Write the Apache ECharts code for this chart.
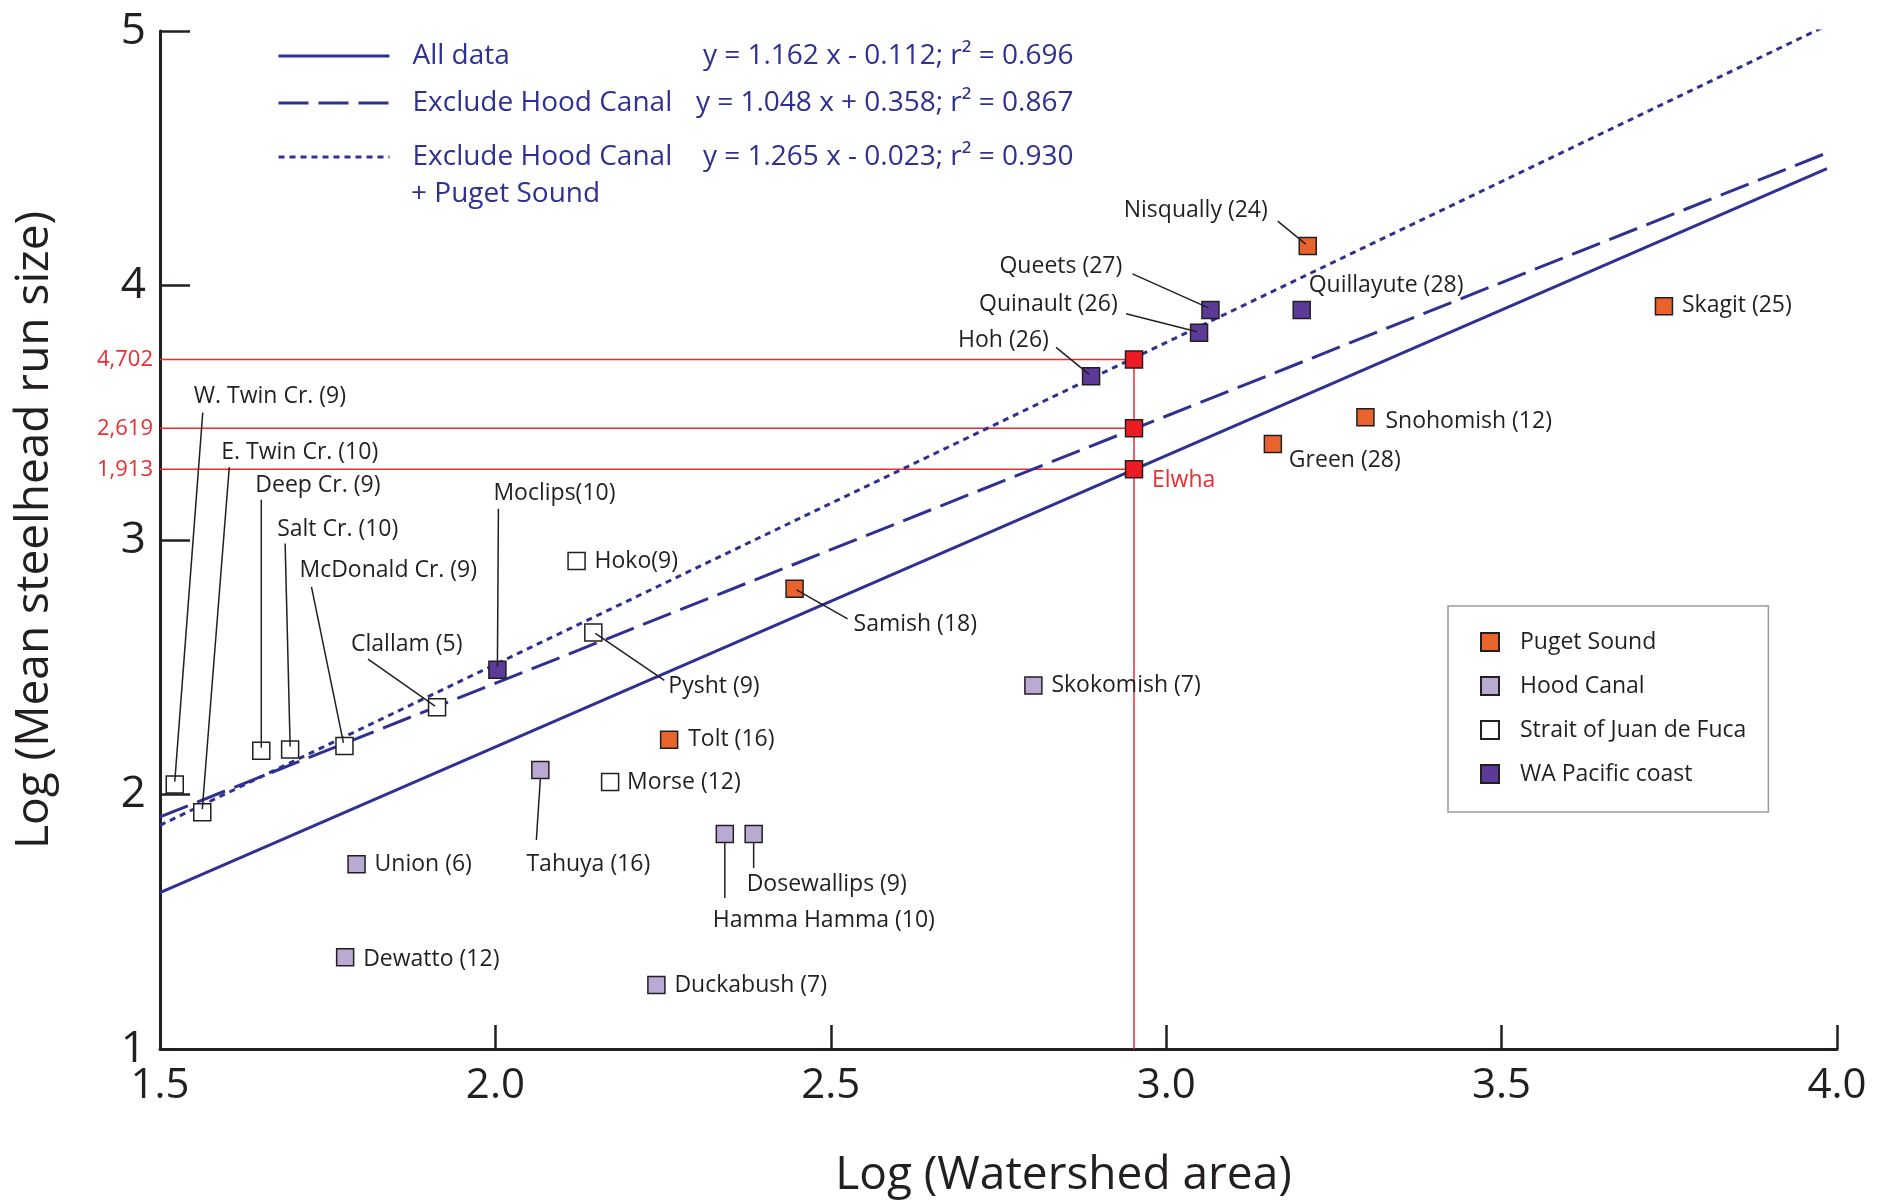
<!DOCTYPE html>
<html><head><meta charset="utf-8">
<script src="https://cdn.jsdelivr.net/npm/echarts@6/dist/echarts.min.js"></script>
<style>html,body{margin:0;padding:0;background:#fff}#c{width:1889px;height:1204px}</style>
</head><body><div id="c"></div>
<script>
// ---- data (log10 values) ----
const pugetNames = ['Nisqually (24)','Skagit (25)','Snohomish (12)','Green (28)','Samish (18)','Tolt (16)'];
const pugetX = [3.211, 3.742, 3.297, 3.159, 2.446, 2.259];
const pugetY = [4.155, 3.918, 3.482, 3.377, 2.808, 2.215];

const hoodNames = ['Skokomish (7)','Tahuya (16)','Union (6)','Dewatto (12)','Duckabush (7)','Hamma Hamma (10)','Dosewallips (9)'];
const hoodX = [2.802, 2.067, 1.793, 1.776, 2.240, 2.342, 2.385];
const hoodY = [2.428, 2.096, 1.726, 1.361, 1.251, 1.845, 1.845];

const straitNames = ['W. Twin Cr. (9)','E. Twin Cr. (10)','Deep Cr. (9)','Salt Cr. (10)','McDonald Cr. (9)','Clallam (5)','Hoko(9)','Pysht (9)','Morse (12)'];
const straitX = [1.522, 1.563, 1.651, 1.694, 1.775, 1.913, 2.121, 2.146, 2.171];
const straitY = [2.039, 1.930, 2.172, 2.177, 2.191, 2.343, 2.917, 2.637, 2.049];

const pacificNames = ['Moclips(10)','Hoh (26)','Quinault (26)','Queets (27)','Quillayute (28)'];
const pacificX = [2.003, 2.888, 3.049, 3.066, 3.202];
const pacificY = [2.490, 3.643, 3.814, 3.904, 3.904];

const elwhaX = 2.952;
const elwhaY = [3.709, 3.439, 3.278];
const elwhaLabels = ['4,702', '2,619', '1,913'];

// regression lines as drawn (start / end)
const lineX = [1.5, 3.985];
const allDataY = [1.614, 4.459];
const exclHoodY = [1.912, 4.521];
const exclHoodPugetY = [1.879, 5.022];
const lineNames = ['All data', 'Exclude Hood Canal', 'Exclude Hood Canal + Puget Sound'];
const lineLegendText = ['All data', 'Exclude Hood Canal', 'Exclude Hood Canal'];
const lineEquations = ['y = 1.162 x - 0.112; r² = 0.696', 'y = 1.048 x + 0.358; r² = 0.867', 'y = 1.265 x - 0.023; r² = 0.930'];

const regionNames = ['Puget Sound', 'Hood Canal', 'Strait of Juan de Fuca', 'WA Pacific coast'];
const xTicks = {min: 1.5, max: 4.0, interval: 0.5};
const yTicks = {min: 1, max: 5, interval: 1};

const FONT = '"Open Sans", "Noto Sans", sans-serif';
const INK = '#231F20';
const BLUE = '#2E3192';
const RED = '#ED2B30';
const colors = ['#E8642C', '#BAA9D3', '#FFFFFF', '#5C3A97'];

// ---- label layout (pixel offsets from the point) ----
const layout = {
  'W. Twin Cr. (9)': {t:[19,-388], l:[28,-372,0,-3]},
  'E. Twin Cr. (10)': {t:[19,-360], l:[27,-345,0,-3]},
  'Deep Cr. (9)': {t:[-6,-265], l:[0,-251,0,-3]},
  'Salt Cr. (10)': {t:[-13,-220], l:[-5,-206,0,-3]},
  'McDonald Cr. (9)': {t:[-45,-175], l:[-33,-159,-1,-3]},
  'Clallam (5)': {t:[-86,-63], l:[-69,-48,-2,-1]},
  'Moclips(10)': {t:[-4,-176], l:[1,-161,0,-3]},
  'Hoko(9)': {t:[18,0]},
  'Pysht (9)': {t:[75,54], l:[2,1,71,48]},
  'Samish (18)': {t:[59,36], l:[2,1,53,30]},
  'Skokomish (7)': {t:[18,0]},
  'Tolt (16)': {t:[19,0]},
  'Morse (12)': {t:[17,0]},
  'Union (6)': {t:[18,0]},
  'Dewatto (12)': {t:[18,2]},
  'Duckabush (7)': {t:[18,0]},
  'Tahuya (16)': {t:[48,94], a:'center', l:[0,9,-4,70]},
  'Dosewallips (9)': {t:[-7,51], l:[0,9,0,34]},
  'Hamma Hamma (10)': {t:[-12,87], l:[0,9,0,64]},
  'Skagit (25)': {t:[18,-1]},
  'Snohomish (12)': {t:[20,4]},
  'Green (28)': {t:[16,16]},
  'Nisqually (24)': {t:[-184,-36], l:[-30,-25,-2,-2]},
  'Quillayute (28)': {t:[7,-24]},
  'Queets (27)': {t:[-211,-43], l:[-78,-36,-2,-2]},
  'Quinault (26)': {t:[-220,-28], l:[-73,-19,-2,-1]},
  'Hoh (26)': {t:[-133,-36], l:[-35,-29,-2,-2]},
  'Elwha': {t:[18,11], c:RED},
  '4,702': {t:[-7,0], a:'right', c:RED, f:22},
  '2,619': {t:[-7,0], a:'right', c:RED, f:22},
  '1,913': {t:[-7,0], a:'right', c:RED, f:22}
};

function pts(xs, ys) { return xs.map((x, i) => [x, ys[i]]); }

const groups = [
  [pugetNames, pugetX, pugetY],
  [hoodNames, hoodX, hoodY],
  [straitNames, straitX, straitY],
  [pacificNames, pacificX, pacificY]
];

const annot = [];
groups.forEach(g => g[0].forEach((n, i) => annot.push({name: n, value: [g[1][i], g[2][i]]})));
annot.push({name: 'Elwha', value: [elwhaX, elwhaY[2]]});
elwhaY.forEach((y, i) => annot.push({name: elwhaLabels[i], value: [xTicks.min, y]}));

const series = [];
// regression lines
[[allDataY, 'solid'], [exclHoodY, [30, 10]], [exclHoodPugetY, [6, 5]]].forEach((d, i) => {
  series.push({
    name: lineNames[i], type: 'line', symbol: 'none', z: 2, silent: true,
    data: pts(lineX, d[0]),
    itemStyle: {color: BLUE},
    lineStyle: {color: BLUE, width: 3, type: d[1]}
  });
});
// red reference lines
elwhaY.forEach((y) => {
  series.push({
    type: 'line', symbol: 'none', z: 1, silent: true,
    data: [[xTicks.min, y], [elwhaX, y]],
    lineStyle: {color: RED, width: 1.5}
  });
});
series.push({
  type: 'line', symbol: 'none', z: 1, silent: true,
  data: [[elwhaX, yTicks.min], [elwhaX, elwhaY[0]]],
  lineStyle: {color: RED, width: 1.5}
});
// scatter groups
groups.forEach((g, gi) => {
  series.push({
    name: regionNames[gi], type: 'scatter', symbol: 'rect', symbolSize: 17, z: 5,
    data: g[0].map((n, i) => ({name: n, value: [g[1][i], g[2][i]]})),
    itemStyle: {color: colors[gi], borderColor: INK, borderWidth: 1.5, opacity: 1}
  });
});
series.push({
  name: 'Elwha', type: 'scatter', symbol: 'rect', symbolSize: 17, z: 5,
  data: elwhaY.map(y => [elwhaX, y]),
  itemStyle: {color: '#ED1C24', borderColor: INK, borderWidth: 1.5, opacity: 1}
});
// labels + leader lines
series.push({
  type: 'custom', z: 10, silent: true, clip: false,
  data: annot,
  renderItem: function (params, api) {
    const item = annot[params.dataIndex];
    const p = api.coord([api.value(0), api.value(1)]);
    const lay = layout[item.name] || {t: [18, 0]};
    const children = [];
    if (lay.l) {
      children.push({type: 'line', shape: {x1: p[0] + lay.l[0], y1: p[1] + lay.l[1], x2: p[0] + lay.l[2], y2: p[1] + lay.l[3]},
        style: {stroke: INK, lineWidth: 1.5}});
    }
    children.push({type: 'text', x: p[0] + lay.t[0], y: p[1] + lay.t[1],
      style: {text: item.name, fill: lay.c || INK, font: (lay.f || 23) + 'px ' + FONT,
        textAlign: lay.a || 'left', textVerticalAlign: 'middle', align: lay.a || 'left', verticalAlign: 'middle'}});
    return {type: 'group', children: children};
  }
});

function lineLegend(i, top) {
  return {
    data: [lineNames[i]], left: 277, top: top, padding: 0, itemWidth: 111, itemHeight: 14,
    selectedMode: false,
    itemStyle: {opacity: 0},
    lineStyle: {type: 'inherit', width: 3, color: BLUE, opacity: 1},
    formatter: () => '{n|' + lineLegendText[i] + '}{e|' + lineEquations[i] + '}',
    textStyle: {padding: [0, 0, 0, 18], rich: {
      n: {width: 236, fontSize: 28, fontFamily: FONT, color: BLUE, lineHeight: 30},
      e: {width: 425, align: 'right', fontSize: 28, fontFamily: FONT, color: BLUE, lineHeight: 30}
    }}
  };
}

const option = {
  backgroundColor: '#fff',
  animation: false,
  grid: {left: 160, right: 52, top: 31, bottom: 155},
  xAxis: {
    type: 'value', min: xTicks.min, max: xTicks.max, interval: xTicks.interval,
    name: 'Log (Watershed area)', nameLocation: 'middle', nameGap: 104,
    nameTextStyle: {fontSize: 46, color: INK, fontFamily: FONT, padding: [0, 0, 0, 130]},
    axisLine: {onZero: false, lineStyle: {color: INK, width: 3}},
    axisTick: {inside: true, length: 24, lineStyle: {color: INK, width: 2.5}},
    axisLabel: {fontSize: 42, color: INK, fontFamily: FONT, margin: 16, formatter: v => v.toFixed(1)},
    splitLine: {show: false}
  },
  yAxis: {
    type: 'value', min: yTicks.min, max: yTicks.max, interval: yTicks.interval,
    name: 'Log (Mean steelhead run size)', nameLocation: 'middle', nameGap: 102,
    nameTextStyle: {fontSize: 46, color: INK, fontFamily: FONT, padding: [0, 0, 0, 20]},
    axisLine: {onZero: false, lineStyle: {color: INK, width: 3}},
    axisTick: {inside: true, length: 30, lineStyle: {color: INK, width: 2.5}},
    axisLabel: {fontSize: 44, color: INK, fontFamily: FONT, margin: 14},
    splitLine: {show: false}
  },
  legend: [
    lineLegend(0, 42),
    lineLegend(1, 89),
    lineLegend(2, 143),
    {
      data: regionNames, orient: 'vertical', left: 1448, top: 606, selectedMode: false,
      padding: [24, 22, 26, 32], itemWidth: 18, itemHeight: 18, itemGap: 20, icon: 'rect',
      backgroundColor: '#fff', borderColor: '#9A9A9A', borderWidth: 1.5,
      textStyle: {fontSize: 23, color: INK, fontFamily: FONT, padding: [0, 0, 0, 16], lineHeight: 24}
    }
  ],
  graphic: [
    {type: 'text', left: 411, top: 180, style: {text: '+ Puget Sound', fill: BLUE, font: '28px ' + FONT}}
  ],
  series: series
};

const chart = echarts.init(document.getElementById('c'), null, {renderer: 'canvas'});
chart.setOption(option);
</script>
</body></html>
